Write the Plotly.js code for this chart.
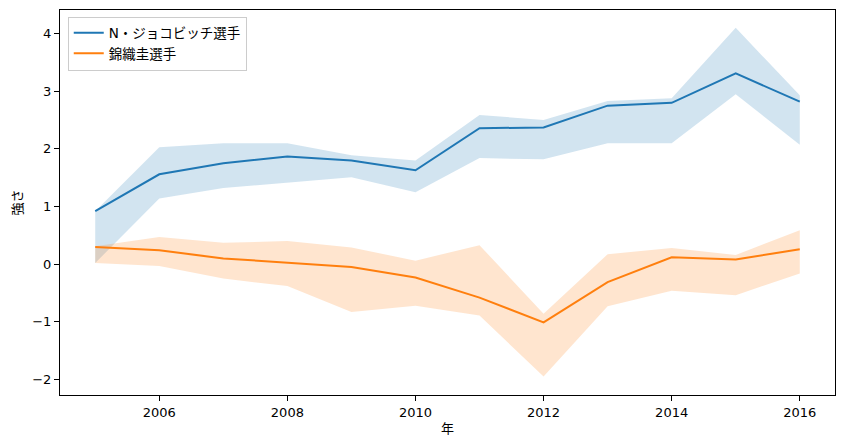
<!DOCTYPE html>
<html>
<head>
<meta charset="utf-8">
<script src="https://cdn.plot.ly/plotly-3.0.1.min.js"></script>
<style>
  html, body { margin: 0; padding: 0; background: #fff; }
  #chart { width: 844px; height: 448px; }
</style>
</head>
<body>
<div id="chart"></div>
<script>
// years on the x axis
const years = [2005, 2006, 2007, 2008, 2009, 2010, 2011, 2012, 2013, 2014, 2015, 2016];

// N・ジョコビッチ選手: mean and band
const djokovic = [0.92, 1.56, 1.75, 1.87, 1.80, 1.63, 2.36, 2.37, 2.75, 2.80, 3.31, 2.82];
const djokovicUpper = [0.92, 2.03, 2.10, 2.10, 1.89, 1.80, 2.59, 2.50, 2.83, 2.88, 4.10, 2.93];
const djokovicLower = [0.02, 1.14, 1.32, 1.41, 1.51, 1.25, 1.84, 1.82, 2.10, 2.10, 2.95, 2.07];

// 錦織圭選手: mean and band
const nishikori = [0.30, 0.24, 0.10, 0.02, -0.05, -0.23, -0.58, -1.01, -0.31, 0.12, 0.08, 0.26];
const nishikoriUpper = [0.31, 0.47, 0.37, 0.40, 0.29, 0.06, 0.33, -0.86, 0.17, 0.28, 0.16, 0.59];
const nishikoriLower = [0.02, -0.03, -0.25, -0.38, -0.83, -0.72, -0.89, -1.95, -0.73, -0.46, -0.54, -0.16];

const names = ['N・ジョコビッチ選手', '錦織圭選手'];
const colors = ['#1f77b4', '#ff7f0e'];
const fills = ['rgba(31,119,180,0.2)', 'rgba(255,127,14,0.2)'];

function band(lower, upper, i) {
  return [
    { x: years, y: lower, type: 'scatter', mode: 'lines',
      line: { width: 0 }, showlegend: false, hoverinfo: 'skip' },
    { x: years, y: upper, type: 'scatter', mode: 'lines',
      line: { width: 0 }, fill: 'tonexty', fillcolor: fills[i],
      showlegend: false, hoverinfo: 'skip' }
  ];
}

function line(y, i) {
  return { x: years, y: y, type: 'scatter', mode: 'lines', name: names[i],
    line: { color: colors[i], width: 2 } };
}

const traces = [
  ...band(djokovicLower, djokovicUpper, 0),
  ...band(nishikoriLower, nishikoriUpper, 1),
  line(djokovic, 0),
  line(nishikori, 1)
];

const font = 'DejaVu Sans, Noto Sans CJK JP, sans-serif';
const axis = {
  showgrid: false, zeroline: false,
  showline: true, linecolor: '#000', linewidth: 1, mirror: true,
  ticks: 'outside', ticklen: 5, tickcolor: '#000', tickwidth: 1,
  tickfont: { size: 13, color: '#000' }
};

const layout = {
  width: 844, height: 448,
  margin: { l: 60, r: 9, t: 10, b: 53 },
  paper_bgcolor: '#fff', plot_bgcolor: '#fff',
  font: { family: font, size: 13, color: '#000' },
  xaxis: Object.assign({}, axis, {
    range: [2004.45, 2016.55], tick0: 2006, dtick: 2,
    title: { text: '年', standoff: 5, font: { size: 13 } }
  }),
  yaxis: Object.assign({}, axis, {
    range: [-2.27, 4.41], dtick: 1,
    title: { text: '強さ', standoff: 6, font: { size: 13 } }
  }),
  legend: {
    x: 0.01, y: 0.983, xanchor: 'left', yanchor: 'top',
    traceorder: 'normal',
    bgcolor: '#fff', bordercolor: '#cccccc', borderwidth: 1,
    font: { size: 13.5 }, tracegroupgap: 0
  },
  showlegend: true
};

Plotly.newPlot('chart', traces, layout, { displayModeBar: false, staticPlot: true });
</script>
</body>
</html>
